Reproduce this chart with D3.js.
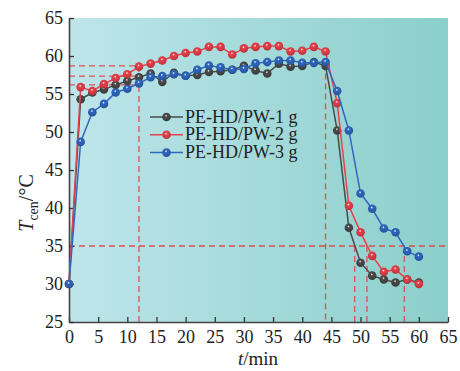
<!DOCTYPE html>
<html lang="en">
<head>
<meta charset="UTF-8">
<title>Tcen vs time</title>
<script src="https://d3js.org/d3.v7.min.js"></script>
<style>
  body { margin: 0; background: #fff; }
  text { font-family: "Liberation Serif", "Times New Roman", serif; fill: #222; }
  .tick text { font-size: 18px; }
</style>
</head>
<body>
<svg width="460" height="371"></svg>
<script>
// time (min)
const times = [0,2,4,6,8,10,12,14,16,18,20,22,24,26,28,30,32,34,36,38,40,42,44,46,48,50,52,54,56,58,60];
const pw1 = [30,54.3,55.2,55.6,56.2,56.7,57.2,57.7,56.6,57.8,57.4,57.5,57.9,58.0,58.2,58.7,58.1,57.7,59.0,58.6,58.7,59.2,58.7,50.2,37.4,32.8,31.1,30.6,30.2,30.6,30.2];
const pw2 = [30,55.9,55.4,56.3,57.1,57.6,58.6,59.0,59.4,60.0,60.4,60.6,61.2,61.2,60.2,61.0,61.2,61.3,61.3,60.6,60.7,61.2,60.6,53.8,40.3,36.8,33.7,31.6,31.9,30.6,30.0];
const pw3 = [30,48.7,52.6,53.7,55.2,55.7,56.4,57.2,57.35,57.6,57.4,58.2,58.75,58.5,58.2,58.3,59.05,59.2,59.4,59.4,59.1,59.1,59.2,55.4,50.2,41.9,39.9,37.3,36.8,34.3,33.6];
const seriesNames = ["PE-HD/PW-1 g", "PE-HD/PW-2 g", "PE-HD/PW-3 g"];
const seriesColors = ["#4a4a4a", "#e8414b", "#2f68c0"];
const xTicks = d3.range(0, 66, 5);
const yTicks = d3.range(25, 66, 5);
// red dashed guide lines [t1, T1, t2, T2]
const guides = [
  [0, 58.7, 12, 58.7], [0, 57.35, 12, 57.35], [0, 56.2, 12, 56.2],
  [12, 58.7, 12, 25], [44, 59, 44, 25],
  [0, 35, 65, 35],
  [49, 35, 49, 25], [51.1, 35, 51.1, 25], [57.5, 35, 57.5, 25]
];

const svg = d3.select("svg");
const margin = {top: 18, left: 69};
const width = 379, height = 304;
const g = svg.append("g").attr("transform", `translate(${margin.left},${margin.top})`);

const x = d3.scaleLinear().domain([0, 65]).range([0, width]);
const y = d3.scaleLinear().domain([25, 65]).range([height, 0]);

const defs = svg.append("defs");
const bg = defs.append("linearGradient").attr("id", "bg");
bg.append("stop").attr("offset", "0%").attr("stop-color", "#bee5ea");
bg.append("stop").attr("offset", "100%").attr("stop-color", "#8bcfca");
seriesColors.forEach((c, i) => {
  const rg = defs.append("radialGradient").attr("id", "ball" + i)
    .attr("cx", "45%").attr("cy", "40%").attr("r", "60%").attr("fx", "45%").attr("fy", "35%");
  rg.append("stop").attr("offset", "0%").attr("stop-color", "#fff");
  rg.append("stop").attr("offset", "25%").attr("stop-color", c);
  rg.append("stop").attr("offset", "100%").attr("stop-color", d3.color(c).darker(0.6));
});

g.append("rect").attr("width", width).attr("height", height).attr("fill", "url(#bg)");

// guides
g.selectAll(".guide").data(guides).join("line")
  .attr("x1", d => x(d[0])).attr("y1", d => y(d[1]))
  .attr("x2", d => x(d[2])).attr("y2", d => y(d[3]))
  .attr("stroke", "#e8373c").attr("stroke-width", 1.3)
  .attr("stroke-dasharray", "6,4").attr("opacity", 0.85);

// axes
const xAxis = g.append("g").attr("transform", `translate(0,${height})`)
  .call(d3.axisBottom(x).tickValues(xTicks).tickSizeInner(-5).tickSizeOuter(0).tickPadding(8));
const yAxis = g.append("g")
  .call(d3.axisLeft(y).tickValues(yTicks).tickSizeInner(-5).tickSizeOuter(0).tickPadding(6));
[xAxis, yAxis].forEach(a => {
  a.select(".domain").attr("stroke", "#444").attr("stroke-width", 1.6);
  a.selectAll(".tick line").attr("stroke", "#333").attr("stroke-width", 1.3);
  a.selectAll(".tick text").attr("fill", "#222");
});

// series
const allSeries = [pw1, pw2, pw3];
const line = d3.line().x((d, i) => x(times[i])).y(d => y(d));
allSeries.forEach((s, k) => {
  g.append("path").datum(s).attr("fill", "none")
    .attr("stroke", seriesColors[k]).attr("stroke-width", 1.5).attr("d", line);
  g.selectAll(".pt" + k).data(s).join("circle")
    .attr("cx", (d, i) => x(times[i])).attr("cy", d => y(d)).attr("r", 4.3)
    .attr("fill", `url(#ball${k})`);
});

// legend
const legend = svg.append("g").attr("transform", "translate(150,117)");
seriesNames.forEach((n, k) => {
  const row = legend.append("g").attr("transform", `translate(0,${k * 17.8})`);
  row.append("line").attr("x1", 0).attr("x2", 33).attr("stroke", seriesColors[k]).attr("stroke-width", 1.5);
  row.append("circle").attr("cx", 16.5).attr("r", 4.3).attr("fill", `url(#ball${k})`);
  row.append("text").attr("x", 35).attr("y", 5.5).attr("font-size", 18).text(n);
});

// axis titles
const xt = svg.append("text").attr("x", 258).attr("y", 365).attr("text-anchor", "middle").attr("font-size", 19);
xt.append("tspan").attr("font-style", "italic").text("t");
xt.append("tspan").text("/min");

const yt = svg.append("text").attr("transform", "translate(33,203) rotate(-90)")
  .attr("text-anchor", "middle").attr("font-size", 20);
yt.append("tspan").attr("font-style", "italic").text("T");
yt.append("tspan").attr("font-size", 14).attr("dy", 5).text("cen");
yt.append("tspan").attr("dy", -5).text("/°C");
</script>
</body>
</html>
